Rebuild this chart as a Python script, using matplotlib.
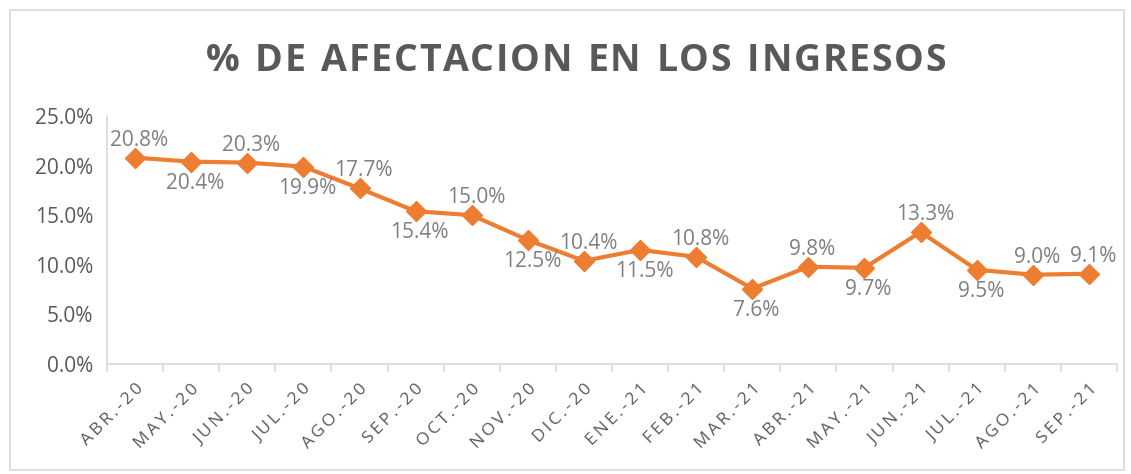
import matplotlib.pyplot as plt
import numpy as np
from matplotlib.ticker import PercentFormatter
from matplotlib.patches import Rectangle

meses = ['ABR.-20', 'MAY.-20', 'JUN.-20', 'JUL.-20', 'AGO.-20', 'SEP.-20',
         'OCT.-20', 'NOV.-20', 'DIC.-20', 'ENE.-21', 'FEB.-21', 'MAR.-21',
         'ABR.-21', 'MAY.-21', 'JUN.-21', 'JUL.-21', 'AGO.-21', 'SEP.-21']
afectacion = [20.8, 20.4, 20.3, 19.9, 17.7, 15.4, 15.0, 12.5, 10.4, 11.5,
              10.8, 7.6, 9.8, 9.7, 13.3, 9.5, 9.0, 9.1]
# posicion de la etiqueta: 1 arriba, -1 abajo
pos_etiqueta = [1, -1, 1, -1, 1, -1, 1, -1, 1, -1, 1, -1, 1, -1, 1, -1, 1, 1]
titulo = '% DE AFECTACION EN LOS INGRESOS'

naranja = '#ED7D31'
gris = '#595959'
gris_claro = '#D9D9D9'

plt.rcParams['font.family'] = ['Open Sans', 'DejaVu Sans']

fig = plt.figure(figsize=(11.31, 4.74), dpi=100)
fig.patches.append(Rectangle((0.009, 0.008), 0.985, 0.97, transform=fig.transFigure,
                             fill=False, edgecolor=gris_claro, linewidth=1.2))
ax = fig.add_axes([107/1131, 110/474, 1010/1131, 248/474])

x = np.arange(len(meses))
ax.plot(x, afectacion, color=naranja, linewidth=3, marker='D', markersize=10,
        markeredgecolor=naranja)

for xi, v, p in zip(x, afectacion, pos_etiqueta):
    ax.annotate(f'{v:.1f}%', (xi, v), xytext=(3, 5 if p > 0 else -8),
                textcoords='offset points', ha='center',
                va='bottom' if p > 0 else 'top', fontsize=15, color='#7F7F7F')

ax.set_xlim(-0.5, len(meses) - 0.5)
ax.set_ylim(0, 25)
ax.set_yticks(np.arange(0, 26, 5))
ax.yaxis.set_major_formatter(PercentFormatter(decimals=1))
ax.set_xticks(x)
# etiquetas con espaciado entre letras, como en Excel
ax.set_xticklabels(['\u2009'.join(m) for m in meses], rotation=45, ha='right',
                   rotation_mode='anchor')
ax.set_xticks(np.arange(-0.5, len(meses), 1), minor=True)
ax.tick_params(axis='x', which='major', length=0, pad=12, labelsize=12.5, labelcolor=gris)
ax.tick_params(axis='x', which='minor', length=6, color=gris_claro, width=1.2)
ax.tick_params(axis='y', length=0, labelsize=15, labelcolor=gris, pad=10)

for lado in ['top', 'right']:
    ax.spines[lado].set_visible(False)
ax.spines['left'].set_color(gris_claro)
ax.spines['bottom'].set_color(gris_claro)
ax.spines['left'].set_linewidth(1.2)
ax.spines['bottom'].set_linewidth(1.2)

# titulo letra por letra para imitar el espaciado
renderer = fig.canvas.get_renderer()
letras = [fig.text(0, 0.871, c, ha='left', va='center', fontsize=27,
                   fontweight='bold', color=gris) for c in titulo]
anchos = []
for t, c in zip(letras, titulo):
    if c == ' ':
        t.set_text('a')
        anchos.append(t.get_window_extent(renderer).width * 0.55)
        t.set_text(' ')
    else:
        anchos.append(t.get_window_extent(renderer).width)
ancho_total = 740
extra = (ancho_total - sum(anchos)) / (len(titulo) - 1)
xpos = (1131 - ancho_total) / 2 + 10
for t, w in zip(letras, anchos):
    t.set_x(xpos / 1131)
    xpos += w + extra

fig.savefig('out.png', dpi=100)
